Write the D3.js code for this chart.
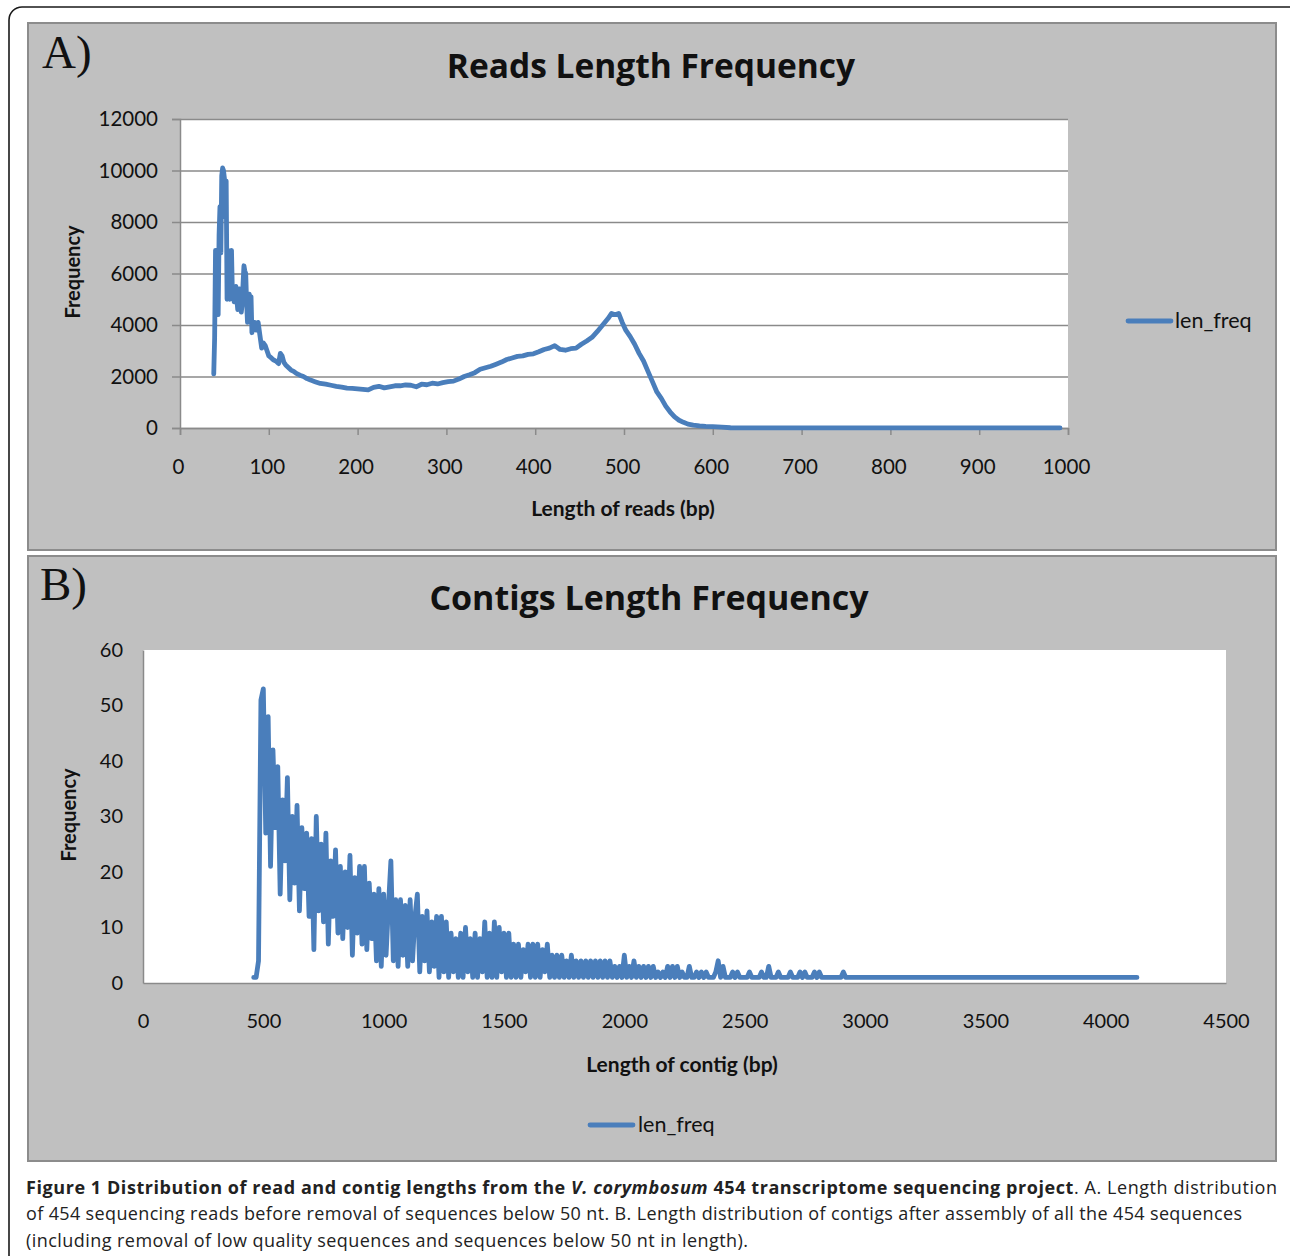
<!DOCTYPE html>
<html>
<head>
<meta charset="utf-8">
<script src="https://cdn.jsdelivr.net/npm/d3@7"></script>
<style>
  html, body { margin: 0; padding: 0; background: #fff; }
  svg { display: block; }
</style>
</head>
<body>
<svg id="chart" width="1290" height="1256"></svg>
<script>
// ---------------- DATA ----------------
// Panel A: reads length frequency
const readLen = [38,39,40,41,42,43,44,45,46,47,48,49,50,51,52,53,54,55,56,57,58,59,60,61,62,63,64,65,66,67,68,69,70,71,72,73,74,75,76,77,78,79,80,81,82,83,84,86,88,90,92,94,96,98,100,102,105,108,111,113,115,117,119,122,125,128,131,135,139,143,147,152,158,164,170,176,182,188,194,200,206,212,218,224,230,236,242,248,254,260,266,272,278,284,290,296,302,308,314,320,326,332,338,344,350,356,362,368,374,380,386,392,398,404,410,416,422,428,434,440,446,452,458,464,470,476,482,486,490,494,498,502,507,512,517,522,527,532,537,542,547,552,557,562,567,572,578,585,592,600,610,620,650,700,800,900,991];
const readFreq = [2100,3500,6900,5000,6700,4400,7500,8600,6800,9800,10100,10000,9700,8200,9600,5000,6900,5300,5000,6200,6900,5200,5100,4900,5300,5500,5000,4600,5200,5400,4700,4500,4800,5600,6300,6100,6000,4900,4100,4800,5200,5000,5100,3700,4100,3900,4100,3800,4100,3600,3100,3300,3200,3000,2800,2750,2650,2600,2500,2900,2800,2550,2450,2350,2250,2200,2120,2050,2000,1920,1860,1800,1730,1700,1660,1620,1590,1550,1540,1520,1500,1480,1580,1620,1560,1600,1640,1640,1670,1660,1600,1700,1680,1740,1710,1760,1800,1820,1900,2000,2070,2150,2280,2340,2400,2480,2560,2660,2720,2780,2800,2860,2880,2960,3050,3100,3200,3050,3020,3080,3100,3250,3380,3520,3750,4000,4250,4450,4400,4450,4100,3800,3550,3250,2900,2600,2200,1800,1400,1150,850,620,430,300,220,150,110,80,60,50,30,10,5,2,1,1,1];
const readXTicks = [0,100,200,300,400,500,600,700,800,900,1000];
const readYTicks = [0,2000,4000,6000,8000,10000,12000];

// Panel B: contigs length frequency (10 bp steps starting at contigStart)
const contigStart = 460;
const contigStep = 10;
const contigFreq = [
  1, 1, 4, 51, 53, 27, 48, 21, 42, 28,
  39, 16, 33, 22, 37, 15, 30, 18, 32, 13,
  28, 17, 27, 12, 26, 6, 30, 13, 25, 11,
  27, 7, 22, 12, 24, 9, 21, 8, 20, 10,
  23, 5, 19, 9, 21, 7, 21, 6, 18, 8,
  16, 4, 17, 3, 16, 5, 14, 22, 4, 15,
  3, 15, 5, 14, 3, 15, 4, 12, 16, 2,
  12, 4, 13, 2, 11, 3, 12, 1, 12, 2,
  11, 1, 9, 2, 8, 1, 9, 1, 10, 2,
  8, 1, 9, 1, 8, 2, 11, 1, 9, 1,
  11, 1, 10, 2, 9, 1, 9, 1, 7, 1,
  7, 1, 6, 2, 7, 1, 7, 1, 7, 1,
  6, 2, 7, 1, 5, 1, 5, 1, 5, 1,
  4, 1, 5, 1, 4, 1, 4, 1, 4, 1,
  4, 1, 4, 1, 4, 1, 4, 1, 4, 1,
  3, 1, 3, 1, 5, 1, 3, 1, 4, 1,
  3, 1, 3, 1, 3, 1, 3, 1, 2, 1,
  2, 1, 3, 1, 3, 1, 3, 1, 2, 1,
  1, 3, 1, 1, 2, 1, 2, 1, 2, 1,
  1, 1, 2, 4, 1, 3, 1, 1, 1, 2,
  1, 2, 1, 1, 1, 1, 2, 1, 1, 1,
  1, 2, 1, 1, 3, 1, 1, 1, 2, 1,
  1, 1, 1, 2, 1, 1, 1, 2, 1, 2,
  1, 1, 1, 2, 1, 2, 1, 1, 1, 1,
  1, 1, 1, 1, 1, 2, 1, 1, 1, 1
];
const contigTailLen = [3000, 3500, 4130];
const contigTailFreq = [1, 1, 1];
const contigXTicks = [0,500,1000,1500,2000,2500,3000,3500,4000,4500];
const contigYTicks = [0,10,20,30,40,50,60];

const seriesName = "len_freq";
const titleA = "Reads Length Frequency";
const titleB = "Contigs Length Frequency";
const xTitleA = "Length of reads (bp)";
const xTitleB = "Length of contig (bp)";
const yTitle = "Frequency";

// ---------------- DRAW ----------------
const svg = d3.select("#chart");
const LINE = "#4a7ebb";
const FONT = "Lato, 'Open Sans', sans-serif";
const TFONT = "'Open Sans', Lato, sans-serif";
const LW = 4.8;

svg.append("rect").attr("width",1290).attr("height",1256).attr("fill","#fff");
// outer rounded frame
svg.append("rect").attr("x",9).attr("y",7).attr("width",1330).attr("height",1320)
  .attr("rx",13).attr("fill","none").attr("stroke","#1a1a1a").attr("stroke-width",1.6);

// panels
svg.append("rect").attr("x",28).attr("y",23).attr("width",1248).attr("height",527)
  .attr("fill","#c0c0c0").attr("stroke","#8c8c8c").attr("stroke-width",2);
svg.append("rect").attr("x",28).attr("y",556).attr("width",1248).attr("height",605)
  .attr("fill","#c0c0c0").attr("stroke","#8c8c8c").attr("stroke-width",2);

svg.append("text").attr("x",42).attr("y",68).attr("font-family","'Liberation Serif', serif")
  .attr("font-size",47).attr("fill","#111").text("A)");
svg.append("text").attr("x",40).attr("y",600).attr("font-family","'Liberation Serif', serif")
  .attr("font-size",47).attr("fill","#111").text("B)");

// ===== Panel A =====
const xA = d3.scaleLinear().domain([0,1000]).range([180,1068]);
const yA = d3.scaleLinear().domain([0,12000]).range([428,119]);

svg.append("rect").attr("x",xA(0)).attr("y",yA(12000)).attr("width",xA(1000)-xA(0))
  .attr("height",yA(0)-yA(12000)).attr("fill","#fff");

// gridlines
svg.append("g").attr("transform",`translate(${xA(0)},0)`)
  .call(d3.axisLeft(yA).tickValues(readYTicks).tickSize(-(xA(1000)-xA(0))).tickFormat(""))
  .call(g => g.select(".domain").remove())
  .call(g => g.selectAll("line").attr("stroke","#8a8a8a").attr("stroke-width",1.5));

// y axis
svg.append("g").attr("transform",`translate(${xA(0)},0)`)
  .call(d3.axisLeft(yA).tickValues(readYTicks).tickSize(8).tickPadding(14).tickFormat(d3.format("d")))
  .call(g => g.select(".domain").attr("stroke","#8a8a8a").attr("stroke-width",1.5))
  .call(g => g.selectAll("line").attr("stroke","#8a8a8a").attr("stroke-width",1.5))
  .call(g => g.selectAll("text").attr("font-family",FONT).attr("font-size",20.5).attr("fill","#111"));

// x axis
svg.append("g").attr("transform",`translate(0,${yA(0)})`)
  .call(d3.axisBottom(xA).tickValues(readXTicks).tickSize(7).tickPadding(24).tickFormat(d3.format("d")))
  .call(g => g.select(".domain").attr("stroke","#8a8a8a").attr("stroke-width",1.5))
  .call(g => g.selectAll("line").attr("stroke","#8a8a8a").attr("stroke-width",1.5))
  .call(g => g.selectAll("text").attr("font-family",FONT).attr("font-size",20.5).attr("fill","#111")
    .attr("transform","translate(-2,0)"));

const readData = readLen.map((l,i)=>({x:l, y:readFreq[i]}));
svg.append("path").datum(readData)
  .attr("d", d3.line().x(d=>xA(d.x)).y(d=>yA(d.y)))
  .attr("fill","none").attr("stroke",LINE).attr("stroke-width",LW)
  .attr("stroke-linejoin","round").attr("stroke-linecap","round");

svg.append("text").attr("x",651).attr("y",78).attr("text-anchor","middle")
  .attr("font-family",TFONT).attr("font-weight","bold").attr("font-size",33.5).attr("fill","#111")
  .text(titleA);
svg.append("text").attr("x",623).attr("y",516).attr("text-anchor","middle")
  .attr("font-family",FONT).attr("font-weight","bold").attr("font-size",21).attr("fill","#111")
  .text(xTitleA);
svg.append("text").attr("transform","translate(80,272) rotate(-90)").attr("text-anchor","middle")
  .attr("font-family",FONT).attr("font-weight","bold").attr("font-size",20).attr("fill","#111")
  .text(yTitle);
// legend A
svg.append("line").attr("x1",1128).attr("x2",1171).attr("y1",321).attr("y2",321)
  .attr("stroke",LINE).attr("stroke-width",LW).attr("stroke-linecap","round");
svg.append("text").attr("x",1175).attr("y",328)
  .attr("font-family",FONT).attr("font-size",21.5).attr("fill","#111").text(seriesName);

// ===== Panel B =====
const xB = d3.scaleLinear().domain([0,4500]).range([143,1226]);
const yB = d3.scaleLinear().domain([0,60]).range([983,650]);

svg.append("rect").attr("x",xB(0)).attr("y",yB(60)).attr("width",xB(4500)-xB(0))
  .attr("height",yB(0)-yB(60)).attr("fill","#fff");

svg.append("g").attr("transform",`translate(${xB(0)},0)`)
  .call(d3.axisLeft(yB).tickValues(contigYTicks).tickSize(0).tickPadding(20).tickFormat(d3.format("d")))
  .call(g => g.select(".domain").attr("stroke","#8a8a8a").attr("stroke-width",1.5))
  .call(g => g.selectAll("text").attr("font-family",FONT).attr("font-size",20).attr("fill","#111"));

svg.append("g").attr("transform",`translate(0,${yB(0)})`)
  .call(d3.axisBottom(xB).tickValues(contigXTicks).tickSize(0).tickPadding(31).tickFormat(d3.format("d")))
  .call(g => g.select(".domain").attr("stroke","#8a8a8a").attr("stroke-width",1.5))
  .call(g => g.selectAll("text").attr("font-family",FONT).attr("font-size",20).attr("fill","#111"));

const contigData = contigFreq.map((v,i)=>({x: contigStart + i*contigStep, y: v}))
  .concat(contigTailLen.map((l,i)=>({x:l, y:contigTailFreq[i]})));
svg.append("path").datum(contigData)
  .attr("d", d3.line().x(d=>xB(d.x)).y(d=>yB(d.y)))
  .attr("fill","none").attr("stroke",LINE).attr("stroke-width",LW)
  .attr("stroke-linejoin","round").attr("stroke-linecap","round");

svg.append("text").attr("x",649).attr("y",610).attr("text-anchor","middle")
  .attr("font-family",TFONT).attr("font-weight","bold").attr("font-size",34).attr("fill","#111")
  .text(titleB);
svg.append("text").attr("x",682).attr("y",1072).attr("text-anchor","middle")
  .attr("font-family",FONT).attr("font-weight","bold").attr("font-size",21).attr("fill","#111")
  .text(xTitleB);
svg.append("text").attr("transform","translate(76,815) rotate(-90)").attr("text-anchor","middle")
  .attr("font-family",FONT).attr("font-weight","bold").attr("font-size",20).attr("fill","#111")
  .text(yTitle);
svg.append("line").attr("x1",590).attr("x2",633).attr("y1",1125).attr("y2",1125)
  .attr("stroke",LINE).attr("stroke-width",LW).attr("stroke-linecap","round");
svg.append("text").attr("x",638).attr("y",1132)
  .attr("font-family",FONT).attr("font-size",21.5).attr("fill","#111").text(seriesName);

// ===== Caption =====
const CFONT = "'Open Sans', 'Noto Sans', sans-serif";
const cap1 = svg.append("text").attr("x",26).attr("y",1194)
  .attr("font-family",CFONT).attr("font-size",18).attr("fill","#222")
  .attr("textLength",1251).attr("lengthAdjust","spacing");
cap1.append("tspan").attr("font-weight","bold").text("Figure 1 Distribution of read and contig lengths from the ");
cap1.append("tspan").attr("font-weight","bold").attr("font-style","italic").text("V. corymbosum");
cap1.append("tspan").attr("font-weight","bold").text(" 454 transcriptome sequencing project");
cap1.append("tspan").text(". A. Length distribution");
svg.append("text").attr("x",26).attr("y",1220)
  .attr("font-family",CFONT).attr("font-size",18).attr("fill","#222")
  .attr("textLength",1216).attr("lengthAdjust","spacing")
  .text("of 454 sequencing reads before removal of sequences below 50 nt. B. Length distribution of contigs after assembly of all the 454 sequences");
svg.append("text").attr("x",26).attr("y",1247)
  .attr("font-family",CFONT).attr("font-size",18).attr("fill","#222")
  .attr("textLength",722).attr("lengthAdjust","spacing")
  .text("(including removal of low quality sequences and sequences below 50 nt in length).");
</script>
</body>
</html>
